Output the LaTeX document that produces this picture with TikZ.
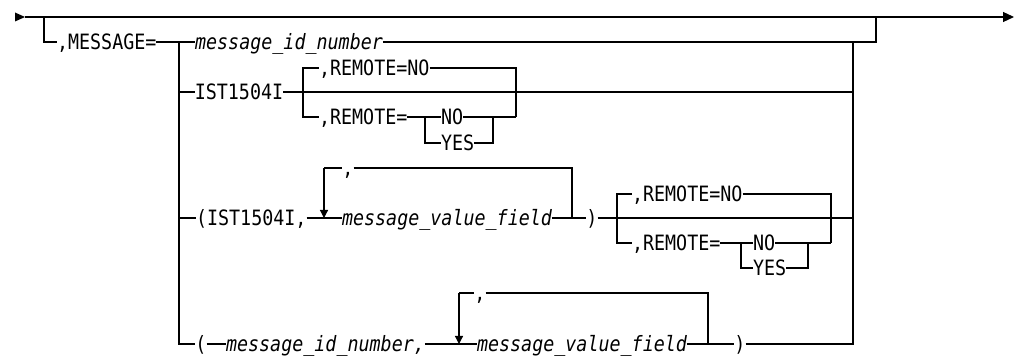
\documentclass[tikz,border=0pt]{standalone}
\usepackage{fontspec}
\newfontfamily\rrfont[FakeStretch=0.87]{DejaVu Sans Mono}
\usetikzlibrary{arrows.meta}
\begin{document}
\begin{tikzpicture}[x=1pt,y=-1pt,line width=1.2pt,
  t/.style={font=\rrfont\fontsize{21.1}{23}\selectfont,inner sep=0pt,outer sep=0pt,text height=15.4pt,text depth=0pt},
  it/.style={t,font=\rrfont\itshape\fontsize{21.1}{23}\selectfont},
  down/.style={-{Triangle[length=8pt,width=8pt]}}]
\useasboundingbox (0,0) rectangle (1021,358);
% main line
\coordinate (s) at (25,17);
\coordinate (e) at (1014,17);
\coordinate (b1) at (44,17);
\coordinate (r1) at (876,17);
\fill (15,12.5) -- (s) -- (15,21.5) -- cycle;
\draw[-{Triangle[length=11pt,width=10pt]}] (s) -- (e);
% junctions
\coordinate (jL) at (179,42);
\coordinate (jR) at (853,42);
% row 1
\node[t,anchor=west] (msg) at (57,42) {,MESSAGE=};
\node[it] (mid1) at (289,42) {message\_id\_number};
\draw (b1) |- (msg.west);
\draw (msg.east) -- (mid1.west);
\draw (mid1.east) -| (r1);
% row 2
\node[t] (ist) at (239,92) {IST1504I};
\node[t,anchor=west] (rno1) at (319,68) {,REMOTE=NO};
\node[t,anchor=west] (rem1) at (319,117) {,REMOTE=};
\node[t,anchor=west] (no1) at (441,117) {NO};
\node[t,anchor=west] (yes1) at (441,143) {YES};
\coordinate (a2) at (303,92);
\coordinate (c2) at (516,117);
\coordinate (d2) at (425,117);
\coordinate (e2) at (493,117);
\draw (jL) |- (ist.west);
\draw (ist.east) -| (jR);
\draw (a2) |- (rno1.west);
\draw (a2) |- (rem1.west);
\draw (rno1.east) -| (c2);
\draw (rem1.east) -- (no1.west);
\draw (no1.east) -- (c2);
\draw (d2) |- (yes1.west);
\draw (yes1.east) -| (e2);
% row 3
\node[t,anchor=west] (p3) at (196,218) {(IST1504I,};
\node[it] (mvf1) at (447,218) {message\_value\_field};
\node[t] (cm3) at (348,168) {,};
\node[t] (cp1) at (592,218) {)};
\coordinate (l3t) at (324,168);
\coordinate (l3) at (324,218);
\coordinate (r3) at (572,218);
\draw (jL) |- (p3.west);
\draw (p3.east) -- (mvf1.west);
\draw[down] (l3t) -- (l3);
\draw (l3t) -- (cm3.west);
\draw (cm3.east) -| (r3);
\draw (mvf1.east) -- (cp1.west);
\draw (cp1.east) -| (jR);
\node[t,anchor=west] (rno2) at (632,194) {,REMOTE=NO};
\node[t,anchor=west] (rem2) at (632,243) {,REMOTE=};
\node[t,anchor=west] (no2) at (753,243) {NO};
\node[t,anchor=west] (yes2) at (753,268) {YES};
\coordinate (a3) at (617,218);
\coordinate (c3) at (831,243);
\coordinate (d3) at (741,243);
\coordinate (e3) at (808,243);
\draw (a3) |- (rno2.west);
\draw (a3) |- (rem2.west);
\draw (rno2.east) -| (c3);
\draw (rem2.east) -- (no2.west);
\draw (no2.east) -- (c3);
\draw (d3) |- (yes2.west);
\draw (yes2.east) -| (e3);
% row 4
\node[t] (p4) at (201,344) {(};
\node[it,anchor=west] (mid2) at (226,344) {message\_id\_number,};
\node[it] (mvf2) at (582,344) {message\_value\_field};
\node[t] (cm4) at (480,293) {,};
\node[t] (cp2) at (740,344) {)};
\coordinate (l4t) at (459,293);
\coordinate (l4) at (459,344);
\coordinate (r4) at (708,344);
\draw (jL) |- (p4.west);
\draw (p4.east) -- (mid2.west);
\draw (mid2.east) -- (mvf2.west);
\draw[down] (l4t) -- (l4);
\draw (l4t) -- (cm4.west);
\draw (cm4.east) -| (r4);
\draw (mvf2.east) -- (cp2.west);
\draw (cp2.east) -| (jR);
\end{tikzpicture}
\end{document}
